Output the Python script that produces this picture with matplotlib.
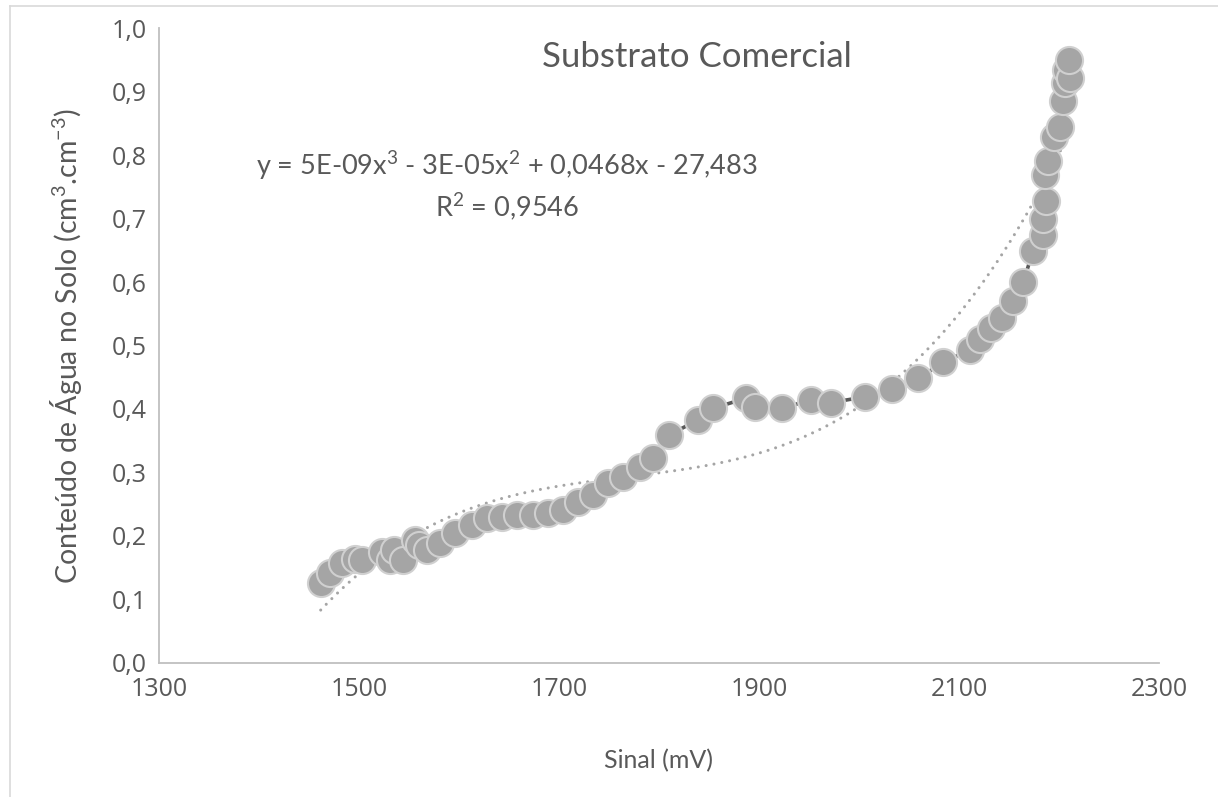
import numpy as np
import matplotlib
matplotlib.use("Agg")
import matplotlib.pyplot as plt
from matplotlib.lines import Line2D
from matplotlib.ticker import FuncFormatter

# Data
sinal_mv = [1461.7, 1471, 1482.7, 1496, 1502.7, 1522.7, 1531, 1535, 1544, 1556,
            1560, 1567.7, 1581, 1596, 1612.7, 1627.7, 1642.7, 1657.7, 1674.3, 1689.3,
            1704.3, 1719.3, 1734.3, 1749.3, 1764.3, 1781, 1794.3, 1810.3, 1839.3, 1854.3,
            1887, 1896, 1922.7, 1951.7, 1971.7, 2006, 2032.7, 2059.3, 2084.3, 2111,
            2121, 2131.7, 2142.7, 2153.7, 2164.3, 2174, 2184, 2184, 2187, 2186,
            2189, 2195, 2201, 2204, 2206, 2207, 2211, 2210]
agua = [0.125, 0.141, 0.157, 0.164, 0.162, 0.175, 0.162, 0.177, 0.162, 0.193,
        0.186, 0.178, 0.188, 0.204, 0.217, 0.228, 0.230, 0.233, 0.233, 0.236,
        0.241, 0.254, 0.264, 0.283, 0.293, 0.309, 0.322, 0.359, 0.383, 0.401,
        0.417, 0.403, 0.401, 0.414, 0.410, 0.419, 0.432, 0.448, 0.474, 0.493,
        0.510, 0.527, 0.544, 0.570, 0.600, 0.649, 0.674, 0.700, 0.728, 0.768,
        0.791, 0.829, 0.845, 0.886, 0.913, 0.935, 0.921, 0.950]

x_ticks = [1300, 1500, 1700, 1900, 2100, 2300]
y_ticks = [0.0, 0.1, 0.2, 0.3, 0.4, 0.5, 0.6, 0.7, 0.8, 0.9, 1.0]

title = "Substrato Comercial"
x_label = "Sinal (mV)"
y_label = "Conteúdo de Água no Solo (cm$^{3}$.cm$^{-3}$)"
eq_text = "y = 5E-09x$^{3}$ - 3E-05x$^{2}$ + 0,0468x - 27,483"
r2_text = "R$^{2}$ = 0,9546"

txt_color = "#595959"
font_main = ["Lato", "DejaVu Sans"]
font_tick = ["Open Sans", "DejaVu Sans"]
plt.rcParams["mathtext.fontset"] = "custom"
plt.rcParams["mathtext.rm"] = "Lato"
plt.rcParams["mathtext.default"] = "regular"

fig = plt.figure(figsize=(12.18, 7.97), dpi=100)
ax = fig.add_axes([159/1218, 1 - 662.7/797, 1000/1218, (662.7 - 28.3)/797])

# Figure border (left and top visible)
fig.add_artist(Line2D([10/1218, 10/1218], [0, 1 - 6/797], transform=fig.transFigure,
                      color="#D9D9D9", lw=1.2))
fig.add_artist(Line2D([10/1218, 1], [1 - 6/797, 1 - 6/797], transform=fig.transFigure,
                      color="#D9D9D9", lw=1.2))

x = np.array(sinal_mv)
y = np.array(agua)

# Polynomial trendline (order 3)
coef = np.polyfit(x, y, 3)
xf = np.linspace(x.min(), x.max(), 300)
ax.plot(xf, np.polyval(coef, xf), color="#A5A5A5", lw=2.2,
        linestyle=(0, (0.01, 2.6)), dash_capstyle="round", zorder=2)

# Series line + markers
ax.plot(x, y, color="#595959", lw=2.6, zorder=3)
ax.plot(x, y, linestyle="none", marker="o", markersize=19.5,
        markerfacecolor="#A5A5A5", markeredgecolor="#D0D0D0",
        markeredgewidth=1.5, zorder=4)

ax.set_xlim(1300, 2300)
ax.set_ylim(0, 1.0)
ax.set_xticks(x_ticks)
ax.set_yticks(y_ticks)
ax.yaxis.set_major_formatter(FuncFormatter(lambda v, p: f"{v:.1f}".replace(".", ",")))
ax.tick_params(length=0, labelsize=18, labelcolor=txt_color)
ax.tick_params(axis="x", pad=10)
ax.tick_params(axis="y", pad=9)
for lab in ax.get_xticklabels() + ax.get_yticklabels():
    lab.set_family(font_tick)

for s in ["top", "right"]:
    ax.spines[s].set_visible(False)
for s in ["left", "bottom"]:
    ax.spines[s].set_color("#BFBFBF")
    ax.spines[s].set_linewidth(1.3)

ax.set_xlabel(x_label, fontsize=18, color=txt_color, family=font_main, labelpad=34)
ax.set_ylabel(y_label, fontsize=20.5, color=txt_color, family=font_main, labelpad=20)

fig.text(697/1218, 1 - 57/797, title, fontsize=25, color=txt_color, family=font_main,
         ha="center", va="center")
fig.text(507/1218, 1 - 166/797, eq_text, fontsize=19.5, color=txt_color, family=font_main,
         ha="center", va="center")
fig.text(507/1218, 1 - 207/797, r2_text, fontsize=19.5, color=txt_color, family=font_main,
         ha="center", va="center")

fig.savefig("out.png", dpi=100, facecolor="white")
